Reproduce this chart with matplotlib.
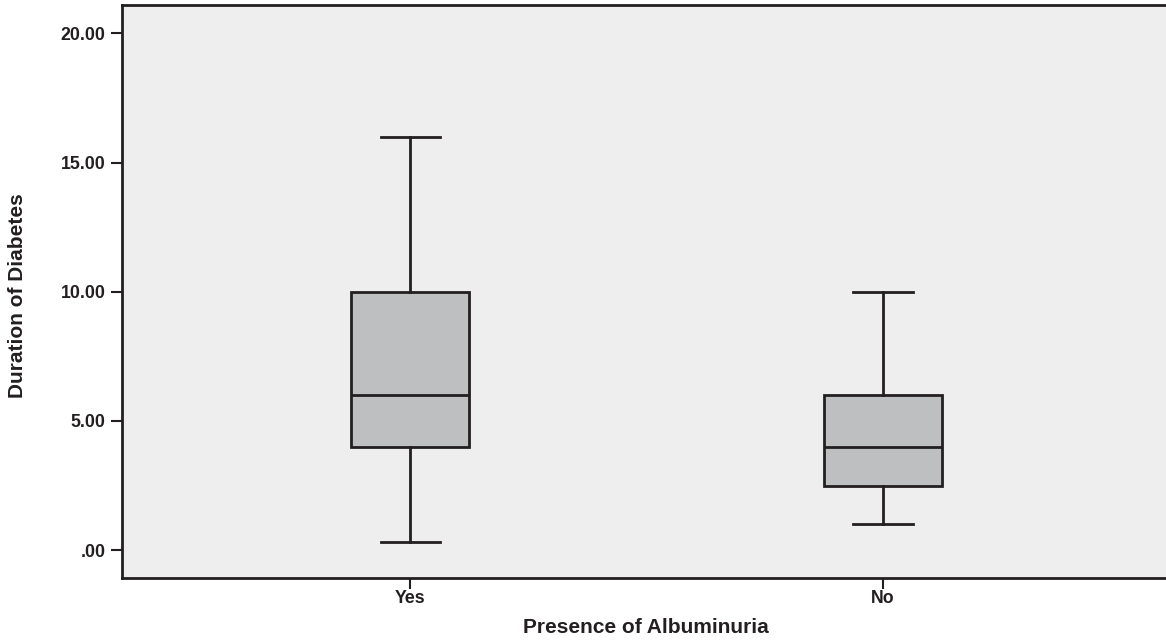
import matplotlib
matplotlib.use('Agg')
import matplotlib.pyplot as plt

# box summary values
groups = ['Yes', 'No']
whisker_low = [0.3, 1.0]
q1 = [4.0, 2.5]
median = [6.0, 4.0]
q3 = [10.0, 6.0]
whisker_high = [16.0, 10.0]
y_ticks = [0, 5, 10, 15, 20]
y_tick_labels = ['.00', '5.00', '10.00', '15.00', '20.00']

plt.rcParams['font.family'] = ['Liberation Sans', 'DejaVu Sans']
line_col = '#231f20'

fig = plt.figure(figsize=(11.66, 6.42), dpi=100, facecolor='white')
ax = fig.add_axes([0.1046, 0.0997, 0.9, 0.8925])
ax.set_facecolor('#eeeeee')

stats = []
for i, g in enumerate(groups):
    stats.append({'label': g, 'whislo': whisker_low[i], 'q1': q1[i], 'med': median[i],
                  'q3': q3[i], 'whishi': whisker_high[i], 'fliers': []})

positions = list(range(1, len(groups) + 1))
ax.bxp(stats, positions=positions, widths=0.25, capwidths=0.125, patch_artist=True,
       showfliers=False,
       boxprops=dict(facecolor='#bebfc1', edgecolor=line_col, linewidth=2),
       medianprops=dict(color=line_col, linewidth=2),
       whiskerprops=dict(color=line_col, linewidth=2),
       capprops=dict(color=line_col, linewidth=2))

ax.set_xlim(0.39, 2.61)
ax.set_ylim(-1.08, 21.1)
ax.set_yticks(y_ticks)
ax.set_yticklabels(y_tick_labels)
ax.set_xticks(positions)
ax.set_xticklabels(groups)

for sp in ['left', 'bottom', 'top']:
    ax.spines[sp].set_color(line_col)
    ax.spines[sp].set_linewidth(2)
ax.spines['right'].set_visible(False)

ax.tick_params(axis='both', colors=line_col, width=1.5, length=8, labelsize=12.8)
ax.tick_params(axis='y', pad=4)
ax.tick_params(axis='x', pad=1)
for lbl in ax.get_xticklabels() + ax.get_yticklabels():
    lbl.set_fontweight('bold')
    lbl.set_color(line_col)

ax.set_xlabel('Presence of Albuminuria', fontsize=15, fontweight='bold', color=line_col)
ax.set_ylabel('Duration of Diabetes', fontsize=15, fontweight='bold', color=line_col)
ax.xaxis.set_label_coords((646 - 122) / (0.9 * 1166), -(628 - 578) / (0.8925 * 642))
ax.yaxis.set_label_coords(-(122 - 18) / (0.9 * 1166), (578 - 296) / (0.8925 * 642))
ax.xaxis.label.set_va('center')
ax.yaxis.label.set_va('center')

fig.savefig('out.png', dpi=100)
